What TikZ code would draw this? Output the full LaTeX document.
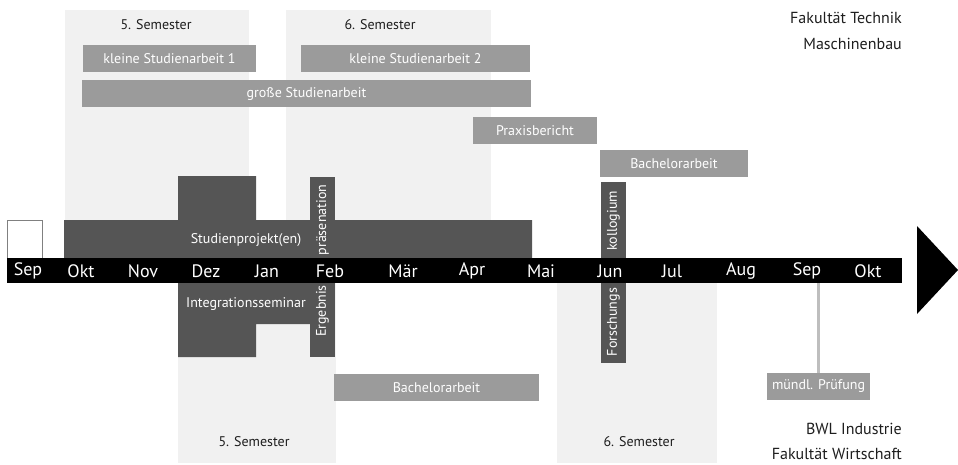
\documentclass[tikz,border=0pt]{standalone}
\usepackage{fontspec}
\setmainfont{PT Sans}
\definecolor{semcol}{RGB}{241,241,241}
\definecolor{midcol}{RGB}{155,155,155}
\definecolor{darkcol}{RGB}{85,85,85}
\definecolor{txtcol}{RGB}{30,30,30}
\definecolor{linecol}{RGB}{190,190,190}
\begin{document}
\begin{tikzpicture}[x=1pt,y=-1pt,
  rect/.style={inner sep=0pt, outer sep=0pt, anchor=north west, draw=none},
  sembox/.style={rect, fill=semcol},
  midbar/.style={rect, fill=midcol, text=white, font=\fontsize{14}{16}\selectfont},
  darkbar/.style={rect, fill=darkcol},
  wlabel/.style={text=white, inner sep=0pt, font=\fontsize{14}{16}\selectfont},
  vlabel/.style={wlabel, rotate=90},
  semlabel/.style={text=txtcol, inner sep=0pt, font=\fontsize{14}{16}\selectfont},
  month/.style={text=white, inner sep=0pt, font=\fontsize{18}{20}\selectfont},
  faclabel/.style={text=txtcol, inner sep=0pt, anchor=east, font=\fontsize{16}{18}\selectfont}
]
\useasboundingbox (0,0) rectangle (958,464);
% semester backgrounds
\node[sembox, minimum width=184pt, minimum height=210pt] (sem5t) at (65,10) {};
\node[sembox, minimum width=205pt, minimum height=210pt] (sem6t) at (286,10) {};
\node[sembox, minimum width=158pt, minimum height=180pt] (sem5b) at (178,283) {};
\node[sembox, minimum width=160pt, minimum height=180pt] (sem6b) at (557,283) {};
\node[semlabel] (l5t) at (156,25) {5. Semester};
\node[semlabel] (l6t) at (380,25) {6. Semester};
\node[semlabel] (l5b) at (254,442) {5. Semester};
\node[semlabel] (l6b) at (639,442) {6. Semester};
% medium bars
\node[midbar, minimum width=173pt, minimum height=27pt] (ks1) at (83,45) {kleine Studienarbeit 1};
\node[midbar, minimum width=229pt, minimum height=27pt] (ks2) at (301,45) {kleine Studienarbeit 2};
\node[midbar, minimum width=449pt, minimum height=27pt] (gs) at (82,80) {große Studienarbeit};
\node[midbar, minimum width=124pt, minimum height=27pt] (praxis) at (473,117) {Praxisbericht};
\node[midbar, minimum width=148pt, minimum height=27pt] (ba1) at (600,150) {Bachelorarbeit};
\node[midbar, minimum width=205pt, minimum height=27pt] (ba2) at (334,374) {Bachelorarbeit};
\node[midbar, minimum width=103pt, minimum height=27pt] (pruef) at (767,373) {mündl. Prüfung};
% dark shapes
\fill[darkcol] (64,258) -- (64,220) -- (178,220) -- (178,176) -- (256,176) -- (256,220) -- (532,220) -- (532,258) -- cycle;
\fill[darkcol] (178,283) -- (310,283) -- (310,324) -- (256,324) -- (256,357) -- (178,357) -- cycle;
\node[darkbar, minimum width=25pt, minimum height=180pt] (praes) at (310,177) {};
\node[darkbar, minimum width=25pt, minimum height=181pt] (kollo) at (601,182) {};
\node[wlabel] (sp) at (246,240) {Studienprojekt(en)};
\node[wlabel] (is) at (246,304) {Integrationsseminar};
% Sep box
\node[rect, fill=white, draw=gray, line width=0.8pt, minimum width=35pt, minimum height=38pt] (sepbox) at (7,220) {};
% axis
\node[rect, fill=black, minimum width=895pt, minimum height=25pt] (axis) at (7,258) {};
\fill[black] (917,226) -- (958,270) -- (917,314) -- cycle;
\foreach \m/\x in {Sep/28, Okt/81, Nov/143, Dez/206, Jan/267, Feb/330, Mär/403, Apr/472, Mai/541, Jun/610, Jul/672, Aug/741, Sep/807, Okt/868}
  \node[month] at (\x,271) {\m};
% vertical labels
\node[vlabel] (lpraes) at (322.5,220) {präsenation};
\node[vlabel] (lerg) at (322.5,311) {Ergebnis};
\node[vlabel] (lkollo) at (613.5,221) {kollogium};
\node[vlabel] (lforsch) at (613.5,322) {Forschungs};
% connector to oral exam
\draw[linecol, line width=3pt] (pruef.north -| 818,0) -- (818,283);
% faculty labels
\node[faclabel] (ft) at (902,18) {Fakultät Technik};
\node[faclabel] (mb) at (902,44) {Maschinenbau};
\node[faclabel] (bwl) at (902,429) {BWL Industrie};
\node[faclabel] (fw) at (902,454) {Fakultät Wirtschaft};
\end{tikzpicture}
\end{document}
